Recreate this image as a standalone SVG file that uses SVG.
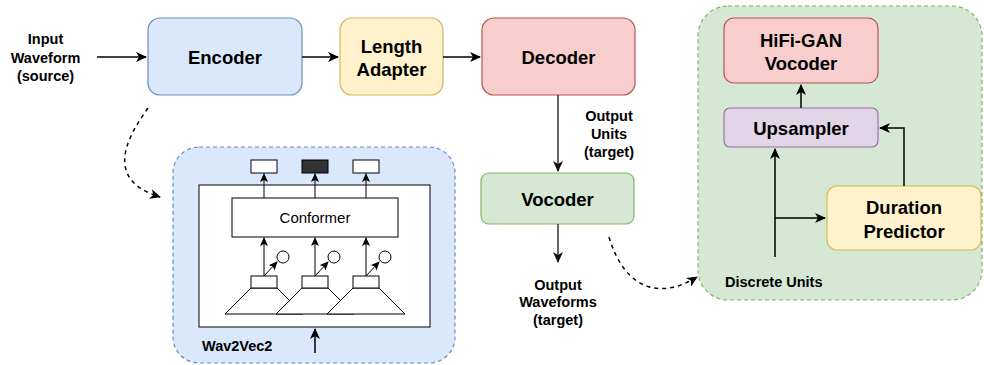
<svg xmlns="http://www.w3.org/2000/svg" width="984" height="365" viewBox="0 0 984 365">
<style>
text{font-family:"Liberation Sans",Arial,sans-serif;fill:#000}
.b{font-weight:bold;text-anchor:middle}
.big{font-size:18.5px}
.lbl{font-size:14.5px}
.ln{fill:none;stroke:#000;stroke-width:1.5}
.dk{fill:none;stroke:#333;stroke-width:1.5}
.dash{fill:none;stroke:#000;stroke-width:1.5;stroke-dasharray:4 4}
.thin{fill:none;stroke:#000;stroke-width:1}
.wb{fill:#fff;stroke:#000;stroke-width:1}
</style>
<defs>
<marker id="ah" markerWidth="12" markerHeight="10" refX="10" refY="5" orient="auto" markerUnits="userSpaceOnUse">
<path d="M0,0 L11,5 L0,10 L3,5 z" fill="#000"/>
</marker>
<marker id="ahd" markerWidth="12" markerHeight="10" refX="10" refY="5" orient="auto" markerUnits="userSpaceOnUse">
<path d="M0,0 L11,5 L0,10 L3,5 z" fill="#111"/>
</marker>
<marker id="as" markerWidth="9" markerHeight="8" refX="8" refY="4" orient="auto" markerUnits="userSpaceOnUse">
<path d="M0,0 L9,4 L0,8 L2,4 z" fill="#000"/>
</marker>
</defs>

<g id="input-label">
<text class="b lbl" x="45.5" y="44">Input</text>
<text class="b lbl" x="45.5" y="62.5">Waveform</text>
<text class="b lbl" x="45.5" y="80.5">(source)</text>
</g>

<g id="encoder">
<rect x="148" y="18" width="154" height="77" rx="12" fill="#dae8fc" stroke="#6c8ebf" stroke-width="1.2"/>
<text class="b big" x="225" y="64">Encoder</text>
</g>

<g id="length-adapter">
<rect x="340" y="18" width="103" height="77" rx="12" fill="#fff2cc" stroke="#d6b656" stroke-width="1.2"/>
<text class="b big" x="391.5" y="52.5">Length</text>
<text class="b big" x="391.5" y="75.5">Adapter</text>
</g>

<g id="decoder">
<rect x="482" y="18" width="153" height="77" rx="12" fill="#f8cecc" stroke="#b85450" stroke-width="1.2"/>
<text class="b big" x="558.5" y="64">Decoder</text>
</g>

<g id="output-units-label">
<text class="b lbl" x="609" y="121">Output</text>
<text class="b lbl" x="609" y="139">Units</text>
<text class="b lbl" x="609" y="157">(target)</text>
</g>

<g id="vocoder">
<rect x="481" y="173" width="153" height="51" rx="8" fill="#d5e8d4" stroke="#82b366" stroke-width="1.2"/>
<text class="b big" x="557.5" y="206">Vocoder</text>
</g>

<g id="output-waveforms-label">
<text class="b lbl" x="558" y="289.5">Output</text>
<text class="b lbl" x="558" y="307">Waveforms</text>
<text class="b lbl" x="558" y="324.5">(target)</text>
</g>

<g id="wav2vec2">
<rect x="173" y="147" width="282" height="216" rx="26" fill="#dae8fc" stroke="#6c8ebf" stroke-width="1.2" stroke-dasharray="4 3"/>
<rect class="wb" x="199" y="185" width="231" height="142"/>
<rect class="wb" x="232" y="198" width="166" height="39"/>
<text x="315" y="223.3" style="font-size:15px;text-anchor:middle">Conformer</text>
<rect class="wb" x="251" y="160" width="26" height="13"/>
<rect x="302" y="160" width="26" height="13" fill="#333" stroke="#000" stroke-width="1"/>
<rect class="wb" x="353" y="160" width="26" height="13"/>
<path class="wb" d="M251,288 L277,288 L303,314 L225,314 Z"/>
<path class="wb" d="M302,288 L328,288 L354,314 L276,314 Z"/>
<path class="wb" d="M353,288 L379,288 L405,314 L327,314 Z"/>
<rect class="wb" x="251" y="276" width="26" height="12"/>
<rect class="wb" x="302" y="276" width="26" height="12"/>
<rect class="wb" x="353" y="276" width="26" height="12"/>
<circle class="wb" cx="283" cy="257" r="6"/>
<circle class="wb" cx="334" cy="257" r="6"/>
<circle class="wb" cx="385" cy="257" r="6"/>
<text x="202" y="351" style="font-size:14.5px;font-weight:bold">Wav2Vec2</text>
</g>

<g id="speech-vocoder">
<rect x="698" y="6" width="284" height="294" rx="30" fill="#d5e8d4" stroke="#82b366" stroke-width="1.2" stroke-dasharray="4 3"/>
</g>

<g id="hifigan">
<rect x="724" y="18" width="154" height="65" rx="10" fill="#f8cecc" stroke="#b85450" stroke-width="1.2"/>
<text class="b big" x="801" y="47">HiFi-GAN</text>
<text class="b big" x="801" y="70">Vocoder</text>
</g>

<g id="upsampler">
<rect x="724" y="108" width="154" height="39" rx="6" fill="#e1d5e7" stroke="#9673a6" stroke-width="1.2"/>
<text class="b big" x="801" y="135">Upsampler</text>
</g>

<g id="duration-predictor">
<rect x="827" y="186" width="154" height="64" rx="10" fill="#fff2cc" stroke="#d6b656" stroke-width="1.2"/>
<text class="b big" x="904" y="214.3">Duration</text>
<text class="b big" x="904" y="237.7">Predictor</text>
</g>

<g id="discrete-units-label">
<text x="725" y="287.3" style="font-size:14.5px;font-weight:bold">Discrete Units</text>
</g>

<g id="connectors">
<path class="ln" d="M97,57 L146,57" marker-end="url(#ah)"/>
<path class="ln" d="M302,57 L338,57" marker-end="url(#ah)"/>
<path class="ln" d="M443,57 L480,57" marker-end="url(#ah)"/>
<path class="dk" d="M558,95 L558,171" marker-end="url(#ahd)"/>
<path class="dk" d="M558,224 L558,262" marker-end="url(#ahd)"/>
<path class="dash" d="M148,108 C125,140 105,180 160,197" marker-end="url(#ah)"/>
<path class="dash" d="M609,237 C625,290 660,300 697,277" marker-end="url(#ah)"/>
<path class="ln" d="M801,108 L801,85" marker-end="url(#ah)"/>
<path class="ln" d="M775,257 L775,149" marker-end="url(#ah)"/>
<path class="ln" d="M775,218 L825,218" marker-end="url(#ah)"/>
<path class="ln" d="M904,186 L904,128 L880,128" marker-end="url(#ah)"/>
<path class="thin" d="M264,198 L264,174" marker-end="url(#as)"/>
<path class="thin" d="M315,198 L315,174" marker-end="url(#as)"/>
<path class="thin" d="M366,198 L366,174" marker-end="url(#as)"/>
<path class="thin" d="M264,276 L264,238" marker-end="url(#as)"/>
<path class="thin" d="M315,276 L315,238" marker-end="url(#as)"/>
<path class="thin" d="M366,276 L366,238" marker-end="url(#as)"/>
<path class="thin" d="M264,276 L277,262" marker-end="url(#as)"/>
<path class="thin" d="M315,276 L328,262" marker-end="url(#as)"/>
<path class="thin" d="M366,276 L379,262" marker-end="url(#as)"/>
<path class="ln" d="M315,353 L315,329" marker-end="url(#ah)"/>
</g>
</svg>
